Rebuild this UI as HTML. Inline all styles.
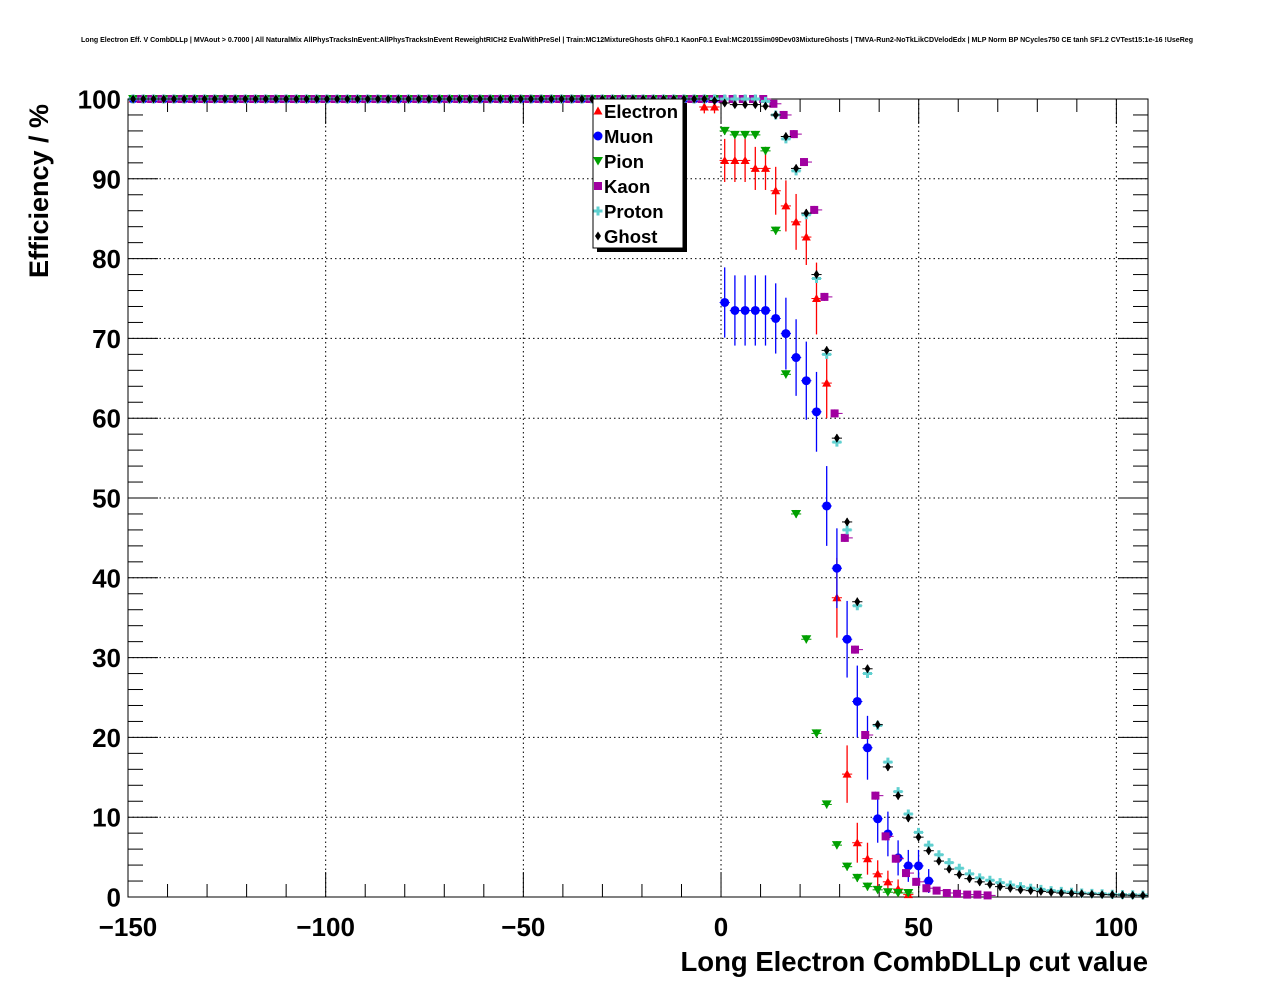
<!DOCTYPE html>
<html><head><meta charset="utf-8"><style>
html,body{margin:0;padding:0;background:#fff;}
svg{display:block;font-family:"Liberation Sans",Arial,sans-serif;}
</style></head><body>
<svg id="chart" width="1276" height="996" viewBox="0 0 1276 996">
<rect width="1276" height="996" fill="#fff"/>
<text x="637" y="42" font-size="7" font-weight="bold" text-anchor="middle" textLength="1112" lengthAdjust="spacingAndGlyphs">Long Electron Eff. V CombDLLp | MVAout &gt; 0.7000 | All NaturalMix AllPhysTracksInEvent:AllPhysTracksInEvent ReweightRICH2 EvalWithPreSel | Train:MC12MixtureGhosts GhF0.1 KaonF0.1 Eval:MC2015Sim09Dev03MixtureGhosts | TMVA-Run2-NoTkLikCDVelodEdx | MLP Norm BP NCycles750 CE tanh SF1.2 CVTest15:1e-16 !UseReg</text>
<g id="grid"></g>
<g id="axes"></g>
<g id="marks"></g>
<text x="1148" y="971" font-size="27.5" font-weight="bold" text-anchor="end">Long Electron CombDLLp cut value</text>
<text transform="translate(48,278) rotate(-90)" font-size="27" font-weight="bold">Efficiency / %</text>
<g id="legend"></g>
</svg>
<script>
// bins: 100 bins from -150 to 108; first index with non-trivial data = 56
const firstBin = 56;
const electron = [99,99,92.3,92.3,92.3,91.3,91.3,88.5,86.6,84.6,82.7,75,64.4,37.5,15.4,6.8,4.8,2.9,1.9,1.0,0.3];
const electronErr = [0.8,0.8,2.7,2.7,2.7,2.7,2.7,3,3.2,3.5,3.5,4.5,4.4,5,3.6,2.5,2,1.7,1.4,1.2,0.5];
const muon = [100,100,74.5,73.5,73.5,73.5,73.5,72.5,70.6,67.6,64.7,60.8,49,41.2,32.3,24.5,18.7,9.8,7.9,4.9,3.9,3.9,2.0];
const muonErr = [0,0,4.4,4.4,4.4,4.4,4.4,4.4,4.5,4.8,4.9,5,5,5,4.8,4.5,4,3,2.8,2.2,2,2,1.5];
const pion = [100,100,96,95.5,95.5,95.5,93.5,83.5,65.5,48,32.3,20.5,11.6,6.5,3.8,2.4,1.3,0.9,0.6,0.5,0.5];
const kaon = [100,100,100,100,100,100,99.4,98,95.6,92.1,86.1,75.2,60.6,45,31,20.3,12.7,7.6,4.8,3.0,1.9,1.1,0.8,0.5,0.4,0.3,0.3,0.2];
const proton = [100,100,100,100,100,100,99.7,98,95,91,85.5,77.5,68,57,46,36.5,28,21.5,16.9,13.2,10.4,8.1,6.5,5.3,4.3,3.6,2.9,2.4,2.1,1.8,1.5,1.3,1.1,0.95,0.8,0.7,0.6,0.5,0.45,0.4,0.35,0.3,0.28,0.25];
const ghost = [100,99.8,99.5,99.3,99.3,99.3,99.1,98,95.3,91.3,85.7,78,68.5,57.5,47,37,28.6,21.6,16.3,12.7,9.9,7.5,5.8,4.5,3.5,2.8,2.3,1.9,1.6,1.3,1.1,0.9,0.8,0.7,0.6,0.5,0.45,0.4,0.35,0.3,0.28,0.25,0.22,0.2];
const xTicks = [-150,-100,-50,0,50,100];
const yTicks = [0,10,20,30,40,50,60,70,80,90,100];
const legendLabels = ["Electron","Muon","Pion","Kaon","Proton","Ghost"];

const NS="http://www.w3.org/2000/svg";
const X0=128,X1=1148,Y0=897,Y1=99,XMIN=-150,XMAX=108,BW=2.58;
const sx=v=>X0+(v-XMIN)/(XMAX-XMIN)*(X1-X0);
const sy=v=>Y0-v/100*(Y0-Y1);
const binC=k=>XMIN+BW/2+BW*k;
function mk(tag,at,parent){const e=document.createElementNS(NS,tag);for(const k in at)e.setAttribute(k,at[k]);parent.appendChild(e);return e;}
const grid=document.getElementById('grid'),axes=document.getElementById('axes'),marks=document.getElementById('marks'),legend=document.getElementById('legend');

mk('rect',{x:X0,y:Y1,width:X1-X0,height:Y0-Y1,fill:'none',stroke:'#000','stroke-width':1},axes);
xTicks.forEach(t=>{const x=sx(t);
 if(t>XMIN){const g=mk('line',{x1:x,x2:x,y1:Y1,y2:Y0,stroke:'#000','stroke-dasharray':'1.5,3','stroke-width':1},grid);}
 const l=mk('text',{x:x,y:936,'font-size':26,'font-weight':'bold','text-anchor':'middle'},axes);l.textContent=(t<0?'\u2212'+(-t):t);
 
 mk('line',{x1:x,x2:x,y1:Y0,y2:Y0-25,stroke:'#000'},axes);mk('line',{x1:x,x2:x,y1:Y1,y2:Y1+25,stroke:'#000'},axes);});
for(let v=-140;v<=108;v+=10){if(v%50===0)continue;const x=sx(v);mk('line',{x1:x,x2:x,y1:Y0,y2:Y0-13,stroke:'#000'},axes);mk('line',{x1:x,x2:x,y1:Y1,y2:Y1+13,stroke:'#000'},axes);}
yTicks.forEach(t=>{const y=sy(t);
 if(t>0&&t<100){const g=mk('line',{x1:X0,x2:X1,y1:y,y2:y,stroke:'#000','stroke-dasharray':'1.5,3','stroke-width':1},grid);}
 const l=mk('text',{x:121,y:y+9.5,'font-size':26,'font-weight':'bold','text-anchor':'end'},axes);l.textContent=t;
 
 mk('line',{x1:X0,x2:X0+30,y1:y,y2:y,stroke:'#000'},axes);mk('line',{x1:X1,x2:X1-30,y1:y,y2:y,stroke:'#000'},axes);});
for(let v=2;v<100;v+=2){if(v%10===0)continue;const y=sy(v);mk('line',{x1:X0,x2:X0+15,y1:y,y2:y,stroke:'#000'},axes);mk('line',{x1:X1,x2:X1-15,y1:y,y2:y,stroke:'#000'},axes);}

function marker(type,x,y,c,p){
 if(type==='up')mk('polygon',{points:`${x},${y-4.5} ${x-4.5},${y+3.5} ${x+4.5},${y+3.5}`,fill:c},p);
 else if(type==='down')mk('polygon',{points:`${x},${y+4.5} ${x-5},${y-4} ${x+5},${y-4}`,fill:c},p);
 else if(type==='circle')mk('circle',{cx:x,cy:y,r:4.5,fill:c},p);
 else if(type==='square')mk('rect',{x:x-4,y:y-4,width:8,height:8,fill:c},p);
 else if(type==='cross')mk('path',{d:`M${x-4.5},${y-1.5}h3v-3h3v3h3v3h-3v3h-3v-3h-3z`,fill:c},p);
 else if(type==='diamond')mk('polygon',{points:`${x},${y-4.5} ${x+3},${y} ${x},${y+4.5} ${x-3},${y}`,fill:c},p);
}
const series=[
 {name:'electron',vals:electron,errs:electronErr,c:'#ff0000',t:'up',off:0},
 {name:'muon',vals:muon,errs:muonErr,c:'#0000ff',t:'circle',off:0},
 {name:'pion',vals:pion,errs:null,c:'#00a000',t:'down',off:0},
 {name:'kaon',vals:kaon,errs:null,c:'#a000a0',t:'square',off:2},
 {name:'proton',vals:proton,errs:null,c:'#60d0d0',t:'cross',off:0},
 {name:'ghost',vals:ghost,errs:null,c:'#000000',t:'diamond',off:0}];
series.forEach(s=>{
 const g=mk('g',{},marks);
 const pts=[];for(let k=0;k<firstBin;k++)pts.push([k,100,0]);
 s.vals.forEach((v,i)=>pts.push([firstBin+i,v,s.errs?s.errs[i]:(v>1&&v<99?0.5:0)]));
 pts.forEach(([k,v,e])=>{
  const xc=binC(k)+s.off,x=sx(xc),y=sy(v);
  const pt=mk('g',{},g);
  if(s.name==='kaon')mk('line',{x1:x,x2:x+8,y1:y,y2:y,stroke:s.c},pt);
  else mk('line',{x1:sx(xc-BW/2),x2:sx(xc+BW/2),y1:y,y2:y,stroke:s.c},pt);
  if(e>0)mk('line',{x1:x,x2:x,y1:sy(Math.min(100,v+e)),y2:sy(Math.max(0,v-e)),stroke:s.c,'stroke-width':1.3},pt);
  marker(s.t,x,y,s.c,pt);
 });
});
mk('rect',{x:597,y:103,width:90,height:149,fill:'#000'},legend);
mk('rect',{x:593,y:99,width:90,height:149,fill:'#fff',stroke:'#000'},legend);
legendLabels.forEach((lab,i)=>{const y=111+25*i;const s=series[i];
 const e=mk('g',{},legend);
 marker(s.t,598,y,s.c,e);
 const t=mk('text',{x:604,y:y+7,'font-size':18.5,'font-weight':'bold'},e);t.textContent=lab;});
</script>
</body></html>
